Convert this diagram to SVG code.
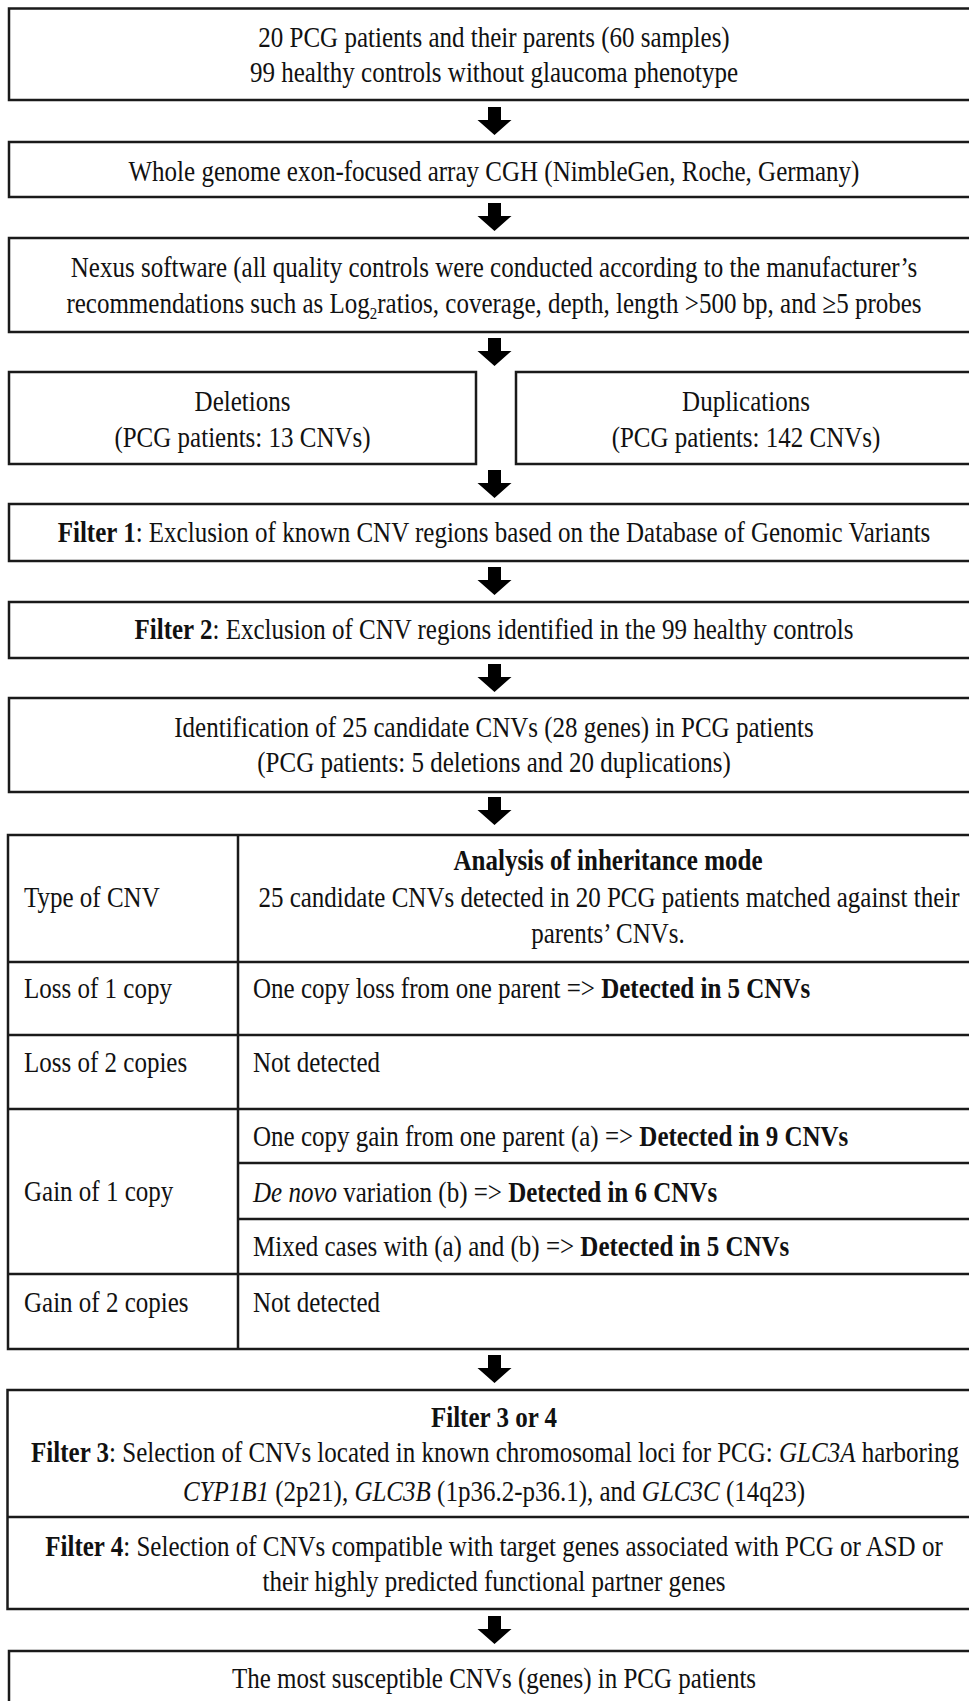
<svg xmlns="http://www.w3.org/2000/svg" xmlns:xlink="http://www.w3.org/1999/xlink" width="969" height="1701" viewBox="0 0 969 1701">
<style>
.box{fill:#fff;stroke:#1a1a1a;stroke-width:2.5}
.ln{stroke:#1a1a1a;stroke-width:2.5;fill:none}
text{font-family:"Liberation Serif","Times New Roman",serif;font-size:25px;fill:#111}
.c{text-anchor:middle}
.b{font-weight:bold}
.i{font-style:italic}
.arr{fill:#000}
</style>
<defs>
<path id="arr" d="M-6.5,0 H6.5 V13 H17 L0,28 L-17,13 H-6.5 Z"/>
</defs>
<rect width="969" height="1701" fill="#fff"/>

<g id="n1">
<rect class="box" x="9" y="8.5" width="970" height="91.5"/>
<text class="c" x="494" y="0" transform="translate(0,47) scale(1,1.15)">20 PCG patients and their parents (60 samples)</text>
<text class="c" x="494" y="0" transform="translate(0,82) scale(1,1.15)">99 healthy controls without glaucoma phenotype</text>
</g>

<g id="n2">
<rect class="box" x="9" y="142" width="970" height="55"/>
<text class="c" x="494" y="0" transform="translate(0,181) scale(1,1.15)">Whole genome exon-focused array CGH (NimbleGen, Roche, Germany)</text>
</g>

<g id="n3">
<rect class="box" x="9" y="238" width="970" height="94"/>
<text class="c" x="494" y="0" transform="translate(0,277) scale(1,1.15)">Nexus software (all quality controls were conducted according to the manufacturer’s</text>
<text class="c" x="494" y="0" transform="translate(0,313) scale(1,1.15)">recommendations such as Log<tspan font-size="15" dy="5">2</tspan><tspan dy="-5">ratios, coverage, depth, length &gt;500 bp, and ≥5 probes</tspan></text>
</g>

<g id="n4">
<rect class="box" x="9" y="372" width="467" height="92"/>
<text class="c" x="242.5" y="0" transform="translate(0,411) scale(1,1.15)">Deletions</text>
<text class="c" x="242.5" y="0" transform="translate(0,447) scale(1,1.15)">(PCG patients: 13 CNVs)</text>
</g>

<g id="n5">
<rect class="box" x="516" y="372" width="463" height="92"/>
<text class="c" x="746" y="0" transform="translate(0,411) scale(1,1.15)">Duplications</text>
<text class="c" x="746" y="0" transform="translate(0,447) scale(1,1.15)">(PCG patients: 142 CNVs)</text>
</g>

<g id="n6">
<rect class="box" x="9" y="504" width="970" height="57"/>
<text class="c" x="494" y="0" transform="translate(0,542) scale(1,1.15)"><tspan class="b">Filter 1</tspan>: Exclusion of known CNV regions based on the Database of Genomic Variants</text>
</g>

<g id="n7">
<rect class="box" x="9" y="602" width="970" height="56"/>
<text class="c" x="494" y="0" transform="translate(0,639) scale(1,1.15)"><tspan class="b">Filter 2</tspan>: Exclusion of CNV regions identified in the 99 healthy controls</text>
</g>

<g id="n8">
<rect class="box" x="9" y="698" width="970" height="94"/>
<text class="c" x="494" y="0" transform="translate(0,737) scale(1,1.15)">Identification of 25 candidate CNVs (28 genes) in PCG patients</text>
<text class="c" x="494" y="0" transform="translate(0,772) scale(1,1.15)">(PCG patients: 5 deletions and 20 duplications)</text>
</g>

<g id="n9">
<rect class="box" x="8" y="835" width="971" height="514"/>
<line class="ln" x1="238" y1="835" x2="238" y2="1349"/>
<line class="ln" x1="8" y1="962" x2="979" y2="962"/>
<line class="ln" x1="8" y1="1035" x2="979" y2="1035"/>
<line class="ln" x1="8" y1="1109" x2="979" y2="1109"/>
<line class="ln" x1="238" y1="1163" x2="979" y2="1163"/>
<line class="ln" x1="238" y1="1219" x2="979" y2="1219"/>
<line class="ln" x1="8" y1="1274" x2="979" y2="1274"/>
<text x="24" y="0" transform="translate(0,907) scale(1,1.15)">Type of CNV</text>
<text class="c b" x="608" y="0" transform="translate(0,870) scale(1,1.15)">Analysis of inheritance mode</text>
<text class="c" x="609" y="0" transform="translate(0,907) scale(1,1.15)">25 candidate CNVs detected in 20 PCG patients matched against their</text>
<text class="c" x="608" y="0" transform="translate(0,943) scale(1,1.15)">parents’ CNVs.</text>
<text x="24" y="0" transform="translate(0,998) scale(1,1.15)">Loss of 1 copy</text>
<text x="253" y="0" transform="translate(0,998) scale(1,1.15)">One copy loss from one parent =&gt; <tspan class="b">Detected in 5 CNVs</tspan></text>
<text x="24" y="0" transform="translate(0,1072) scale(1,1.15)">Loss of 2 copies</text>
<text x="253" y="0" transform="translate(0,1072) scale(1,1.15)">Not detected</text>
<text x="24" y="0" transform="translate(0,1201) scale(1,1.15)">Gain of 1 copy</text>
<text x="253" y="0" transform="translate(0,1146) scale(1,1.15)">One copy gain from one parent (a) =&gt; <tspan class="b">Detected in 9 CNVs</tspan></text>
<text x="253" y="0" transform="translate(0,1202) scale(1,1.15)"><tspan class="i">De novo</tspan> variation (b) =&gt; <tspan class="b">Detected in 6 CNVs</tspan></text>
<text x="253" y="0" transform="translate(0,1256) scale(1,1.15)">Mixed cases with (a) and (b) =&gt; <tspan class="b">Detected in 5 CNVs</tspan></text>
<text x="24" y="0" transform="translate(0,1312) scale(1,1.15)">Gain of 2 copies</text>
<text x="253" y="0" transform="translate(0,1312) scale(1,1.15)">Not detected</text>
</g>

<g id="n10">
<rect class="box" x="7.5" y="1390" width="972" height="219"/>
<line class="ln" x1="7.5" y1="1517" x2="979" y2="1517"/>
<text class="c b" x="494" y="0" transform="translate(0,1427) scale(1,1.15)">Filter 3 or 4</text>
<text class="c" x="495" y="0" transform="translate(0,1462) scale(1,1.15)"><tspan class="b">Filter 3</tspan>: Selection of CNVs located in known chromosomal loci for PCG: <tspan class="i">GLC3A</tspan> harboring</text>
<text class="c" x="494" y="0" transform="translate(0,1501) scale(1,1.15)"><tspan class="i">CYP1B1</tspan> (2p21), <tspan class="i">GLC3B</tspan> (1p36.2-p36.1), and <tspan class="i">GLC3C</tspan> (14q23)</text>
<text class="c" x="494" y="0" transform="translate(0,1556) scale(1,1.15)"><tspan class="b">Filter 4</tspan>: Selection of CNVs compatible with target genes associated with PCG or ASD or</text>
<text class="c" x="494" y="0" transform="translate(0,1591) scale(1,1.15)">their highly predicted functional partner genes</text>
</g>

<g id="n11">
<rect class="box" x="9" y="1651" width="970" height="60"/>
<text class="c" x="494" y="0" transform="translate(0,1688) scale(1,1.15)">The most susceptible CNVs (genes) in PCG patients</text>
</g>

<g id="connectors">
<use class="arr" xlink:href="#arr" x="494.5" y="107"/>
<use class="arr" xlink:href="#arr" x="494.5" y="203"/>
<use class="arr" xlink:href="#arr" x="494.5" y="338"/>
<use class="arr" xlink:href="#arr" x="494.5" y="470"/>
<use class="arr" xlink:href="#arr" x="494.5" y="567"/>
<use class="arr" xlink:href="#arr" x="494.5" y="664"/>
<use class="arr" xlink:href="#arr" x="494.5" y="797"/>
<use class="arr" xlink:href="#arr" x="494.5" y="1355"/>
<use class="arr" xlink:href="#arr" x="494.5" y="1616"/>
</g>
</svg>
